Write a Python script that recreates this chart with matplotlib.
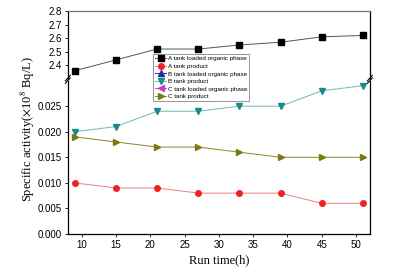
import matplotlib.pyplot as plt
import numpy as np

plt.rcParams["font.family"] = "Liberation Sans"
plt.rcParams["mathtext.fontset"] = "stix"

run_time = [9, 15, 21, 27, 33, 39, 45, 51]
a_organic = [2.36, 2.44, 2.52, 2.52, 2.55, 2.57, 2.61, 2.62]
a_product = [0.010, 0.009, 0.009, 0.008, 0.008, 0.008, 0.006, 0.006]
b_product = [0.020, 0.021, 0.024, 0.024, 0.025, 0.025, 0.028, 0.029]
c_product = [0.019, 0.018, 0.017, 0.017, 0.016, 0.015, 0.015, 0.015]

fig = plt.figure(figsize=(4.06, 2.75), dpi=100)
ax_top = fig.add_axes([0.167, 0.713, 0.744, 0.247])
ax_bot = fig.add_axes([0.167, 0.149, 0.744, 0.558])

ms = 4
h1, = ax_top.plot(run_time, a_organic, "-", color="#555555", lw=0.7,
                  marker="s", ms=ms, mfc="black", mec="black", label="A tank loaded organic phase")
h2, = ax_bot.plot(run_time, a_product, "-", color="#f08080", lw=0.7,
                  marker="o", ms=ms, mfc="#ee2222", mec="#ee2222", label="A tank product")
h3, = ax_bot.plot([], [], "-", color="#3333aa", lw=0.7,
                  marker="^", ms=ms, mfc="#2b2ba0", mec="#2b2ba0", label="B tank loaded organic phase")
h4, = ax_bot.plot(run_time, b_product, "-", color="#6fb8b8", lw=0.7,
                  marker="v", ms=ms, mfc="#1a8a8a", mec="#1a8a8a", label="B tank product")
h5, = ax_bot.plot([], [], "-", color="#cc44cc", lw=0.7,
                  marker="<", ms=ms, mfc="#c040c0", mec="#c040c0", label="C tank loaded organic phase")
h6, = ax_bot.plot(run_time, c_product, "-", color="#8a8a20", lw=0.7,
                  marker=">", ms=ms, mfc="#7a7a10", mec="#7a7a10", label="C tank product")

for ax in (ax_top, ax_bot):
    ax.set_xlim(8, 52)
    ax.tick_params(labelsize=7, length=2.5, width=0.6, pad=1.5)
    for s in ax.spines.values():
        s.set_linewidth(0.9)

ax_top.set_ylim(2.3, 2.8)
ax_top.set_yticks([2.4, 2.5, 2.6, 2.7, 2.8])
ax_top.spines["bottom"].set_visible(False)
ax_top.spines["top"].set_color("#777777")
ax_top.set_xticks([])

ax_bot.set_ylim(0, 0.03)
ax_bot.set_yticks([0.000, 0.005, 0.010, 0.015, 0.020, 0.025])
ax_bot.set_yticklabels([f"{v:.3f}" for v in ax_bot.get_yticks()])
ax_bot.set_xticks([10, 15, 20, 25, 30, 35, 40, 45, 50])
ax_bot.spines["top"].set_visible(False)

# break marks
d = 0.006
for xb in (0.167, 0.911):
    for yb in (0.707, 0.716):
        fig.add_artist(plt.Line2D([xb - d, xb + d], [yb - 0.01, yb + 0.01],
                                  color="black", lw=0.8, transform=fig.transFigure))

fig.text(0.07, 0.53, r"Specific activity($\times$10$^8$ Bq/L)", rotation=90,
         ha="center", va="center", fontsize=9, family="Liberation Serif")
fig.text(0.54, 0.055, "Run time(h)", ha="center", va="center",
         fontsize=9, family="Liberation Serif")

leg = fig.legend(handles=[h1, h2, h3, h4, h5, h6], loc="upper left",
                 bbox_to_anchor=(0.378, 0.803), fontsize=4.5, frameon=True,
                 fancybox=False, edgecolor="#666666", handlelength=1.7,
                 handletextpad=0.3, borderpad=0.3, labelspacing=0.35,
                 borderaxespad=0)
leg.get_frame().set_linewidth(0.6)

fig.savefig("out.png", dpi=100)
